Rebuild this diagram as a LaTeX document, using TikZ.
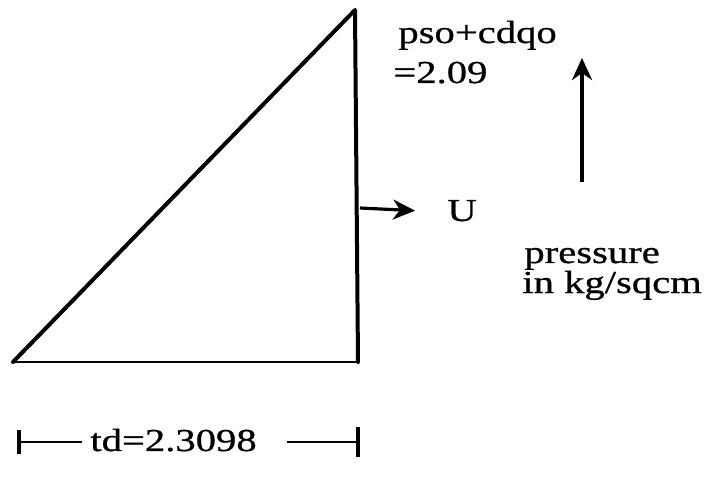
\documentclass[tikz,border=0pt]{standalone}
\usepackage{fontspec}
\newfontfamily\labelfont[FakeStretch=1.27,FakeBold=0.8]{Liberation Serif}
\usetikzlibrary{arrows.meta,positioning}
\tikzset{
  edge/.style={
    line width=2pt,
    line cap=round,
    line join=round
  },
  base/.style={
    line width=1.4pt
  },
  txt/.style={
    font=\labelfont\fontsize{16pt}{18pt}\selectfont,
    inner sep=0pt,
    anchor=base west
  },
  flow/.style={
    -{Stealth[length=11pt,width=10pt,inset=3.5pt]},
    line width=1.6pt
  },
  dim/.style={
    line width=1.4pt
  }
}

\begin{document}
\begin{tikzpicture}[x=0.5pt,y=-0.5pt]
  \useasboundingbox (0,0) rectangle (708,481);

  % triangle
  \coordinate (left) at (13,362);
  \coordinate (top) at (355,10);
  \coordinate (right) at (358,362);
  \draw[edge] (left) -- (top) -- (right);
  \draw[base] (left) -- (right);

  % peak value
  \node[txt] (peak) at (398,43) {pso+cdqo};
  \node[txt] (peakval) at (393,83) {=2.09};

  % U
  \coordinate (ustart) at (360,208);
  \node[txt] (u) at (447,221) {U};
  \draw[flow] (ustart) -- ([xshift=-16pt]u.west);

  % pressure axis
  \node[txt] (press) at (524,263) {pressure};
  \node[txt] (unit) at (522,293) {in kg/sqcm};
  \coordinate (axbot) at (582,182);
  \coordinate (axtop) at (582,58);
  \draw[flow, line width=2pt] (axbot) -- (axtop);

  % duration
  \node[txt] (td) at (90,451) {td=2.3098};
  \coordinate (dimL) at (17,442);
  \coordinate (dimR) at (360,442);
  \draw[dim, {Bar[width=12pt,line width=2pt]}-] (dimL) -- ([xshift=-4pt]td.west |- dimL);
  \draw[dim, -{Bar[width=15pt,line width=2pt]}] ([xshift=15pt]td.east |- dimR) -- (dimR);
\end{tikzpicture}
\end{document}
